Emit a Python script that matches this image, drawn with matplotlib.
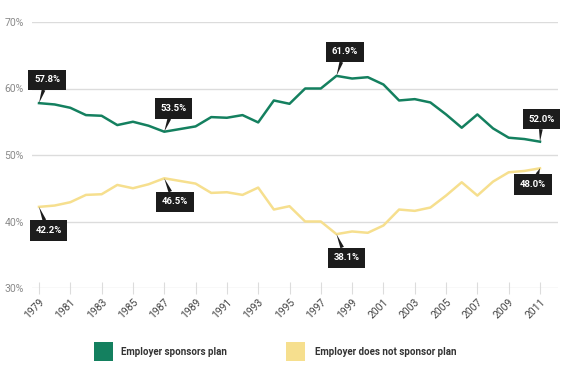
import matplotlib.pyplot as plt
from matplotlib.patches import Rectangle

plt.rcParams['font.family'] = ['Roboto', 'DejaVu Sans']

years = list(range(1979, 2012))
sponsors = [57.8, 57.6, 57.1, 56.0, 55.9, 54.5, 55.0, 54.4, 53.5, 53.9, 54.3,
            55.7, 55.6, 56.0, 54.9, 58.2, 57.7, 60.0, 60.0, 61.9, 61.5, 61.7,
            60.6, 58.2, 58.4, 57.9, 56.1, 54.1, 56.1, 54.0, 52.6, 52.4, 52.0]
no_sponsor = [42.2, 42.4, 42.9, 44.0, 44.1, 45.5, 45.0, 45.6, 46.5, 46.1, 45.7,
              44.3, 44.4, 44.0, 45.1, 41.8, 42.3, 40.0, 40.0, 38.1, 38.5, 38.3,
              39.4, 41.8, 41.6, 42.1, 43.9, 45.9, 43.9, 46.0, 47.4, 47.6, 48.0]
series_labels = ['Employer sponsors plan', 'Employer does not sponsor plan']
yticks = [30, 40, 50, 60, 70]
xticks = list(range(1979, 2012, 2))

# callouts: (series index, year, offset in points)
callouts = [(0, 1979, (5.8, 16.8)), (0, 1987, (6.5, 16.7)),
            (0, 1998, (6.1, 17.3)), (0, 2011, (1.1, 16.3)),
            (1, 1979, (6.8, -17)), (1, 1987, (7.6, -17)),
            (1, 1998, (7.2, -17)), (1, 2011, (-5, -11.7))]

green = '#14805f'
yellow = '#f6df8e'

fig = plt.figure(figsize=(5.85, 3.79), dpi=100)
ax = fig.add_axes([32/585, 1-288/379, 526/585, 266/379])

ax.set_ylim(30, 70)
ax.set_xlim(1979 - 7/15.66, 2011 + 18/15.66)
for y in yticks:
    ax.axhline(y, color='#dcdcdc', lw=1, zorder=0)

ax.plot(years, sponsors, color=green, lw=1.8, zorder=3)
ax.plot(years, no_sponsor, color=yellow, lw=1.8, zorder=3)

for s, yr, off in callouts:
    vals = sponsors if s == 0 else no_sponsor
    v = vals[years.index(yr)]
    ax.annotate(f'{v:.1f}%', xy=(yr, v), xytext=off, textcoords='offset points',
                ha='center', va='center', color='white', fontsize=6.8,
                fontweight='bold', zorder=5,
                bbox=dict(boxstyle='square,pad=0.6', fc='#1c1c1c', ec='none'),
                arrowprops=dict(arrowstyle='wedge,tail_width=0.4', fc='#1c1c1c',
                                ec='none', shrinkA=0, shrinkB=0))

for sp in ax.spines.values():
    sp.set_visible(False)
ax.set_yticks(yticks)
ax.set_yticklabels([f'{y}%' for y in yticks], color='#8a8a8a', fontsize=7.5)
ax.tick_params(axis='y', length=0, pad=6)
ax.set_xticks(xticks)
ax.set_xticklabels([str(x) for x in xticks], rotation=45, ha='right',
                   rotation_mode='anchor', color='#444444', fontsize=7.5)
ax.tick_params(axis='x', direction='inout', length=9, color='#dcdcdc', pad=2)

# legend
fig.patches.append(Rectangle((94/585, 1-361/379), 19/585, 19/379,
                             transform=fig.transFigure, fc=green, ec='none'))
fig.text(121/585, 1-352/379, series_labels[0], fontsize=7, fontweight='bold',
         color='#333333', va='center')
fig.patches.append(Rectangle((286/585, 1-361/379), 19/585, 19/379,
                             transform=fig.transFigure, fc=yellow, ec='none'))
fig.text(315/585, 1-352/379, series_labels[1], fontsize=7, fontweight='bold',
         color='#333333', va='center')

fig.savefig('out.png', dpi=100)
